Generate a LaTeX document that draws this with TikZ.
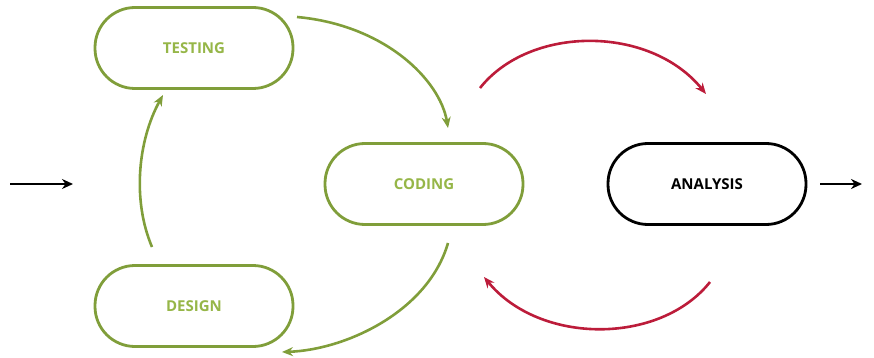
\documentclass[tikz,border=0pt]{standalone}
\usepackage{fontspec}
\setmainfont{Open Sans}
\usetikzlibrary{arrows.meta}
\definecolor{leaf}{RGB}{128,158,58}
\definecolor{leaftext}{RGB}{150,182,72}
\definecolor{berry}{RGB}{188,28,58}
\tikzset{
  phase/.style={draw=leaf, line width=2.8pt, rounded corners=40pt,
    minimum width=198pt, minimum height=81pt, text=leaftext,
    font=\bfseries\fontsize{15}{15}\selectfont},
  flow/.style={draw=leaf, line width=2.6pt, -{Stealth[length=11pt,width=9pt]}},
  loop/.style={draw=berry, line width=2.6pt, -{Stealth[length=11pt,width=9pt]}},
  io/.style={draw=black, line width=2.8pt, -{Stealth[length=11pt,width=10pt]}}
}
\begin{document}
\begin{tikzpicture}[x=1pt,y=-1pt]
  \useasboundingbox (0,0) rectangle (874,358);
  % phases
  \node[phase] (testing) at (194,48) {TESTING};
  \node[phase] (design)  at (194,306) {DESIGN};
  \node[phase] (coding)  at (424,184) {CODING};
  \node[phase, draw=black, text=black] (analysis) at (707,184) {ANALYSIS};
  % loose ends of the curved connectors
  \coordinate (tcA) at (297,17);   \coordinate (tcB) at (448,128);
  \coordinate (cdA) at (448,243);  \coordinate (cdB) at (282,352);
  \coordinate (dtA) at (152,247);  \coordinate (dtB) at (163,95);
  \coordinate (raA) at (480,88);   \coordinate (raB) at (706,94);
  \coordinate (arA) at (710,282);  \coordinate (arB) at (484,277);
  \coordinate (inA) at (10,184);   \coordinate (inB) at (73,184);
  \coordinate (outA) at (820,184); \coordinate (outB) at (862,184);
  % green cycle
  \draw[flow] (tcA) .. controls (385,25) and (440,80) .. (tcB);
  \draw[flow] (cdA) .. controls (428,312) and (345,350) .. (cdB);
  \draw[flow] (dtA) .. controls (132,200) and (138,140) .. (dtB);
  % red exchange with analysis
  \draw[loop] (raA) .. controls (530,25) and (650,25) .. (raB);
  \draw[loop] (arA) .. controls (660,345) and (540,345) .. (arB);
  % entry and exit
  \draw[io] (inA) -- (inB);
  \draw[io] (outA) -- (outB);
\end{tikzpicture}
\end{document}
